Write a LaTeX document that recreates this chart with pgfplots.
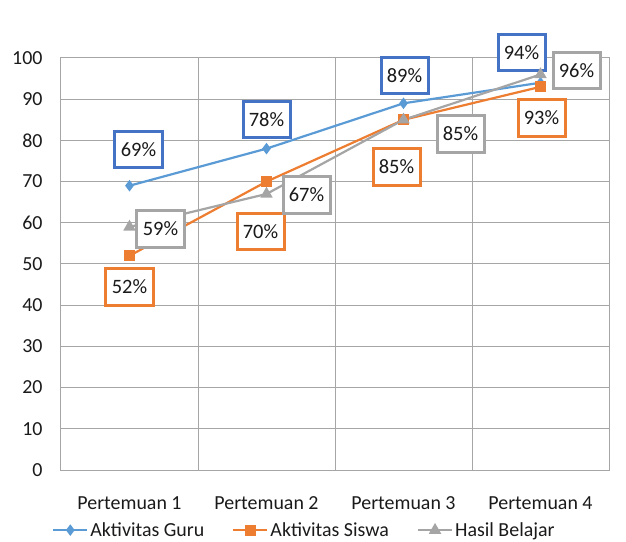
\documentclass[border=0pt]{standalone}
\usepackage{fontspec}
\setmainfont{Carlito}
\usepackage{pgfplots}
\pgfplotsset{compat=1.18}
\usepackage{pgfplotstable}

\definecolor{guruLine}{HTML}{5B9BD5}
\definecolor{guruBox}{HTML}{4472C4}
\definecolor{siswa}{HTML}{ED7D31}
\definecolor{hasil}{HTML}{A5A5A5}
\definecolor{gridc}{HTML}{A6A6A6}
\definecolor{txt}{HTML}{1A1A1A}

% x, value, label offset (dx right, dy up, in bp)
\pgfplotstableread{
x y dx dy
1 69 9 36
2 78 0 29
3 89 1 28
4 94 -19 30
}\guru
\pgfplotstableread{
x y dx dy
1 52 0 -31
2 70 -6 -50
3 85 -7 -47
4 93 1 -31
}\siswa
\pgfplotstableread{
x y dx dy
1 59 31 -2
2 67 40 -1
3 85 57 -14
4 96 36 4
}\hasil

\pgfplotsset{
  valbox/.style={
    nodes near coords={\pgfmathprintnumber{\pgfplotspointmeta}\%},
    point meta=explicit,
    visualization depends on={\thisrow{dx} \as \dx},
    visualization depends on={\thisrow{dy} \as \dy},
    every node near coord/.append style={
      anchor=center, xshift=\dx bp, yshift=\dy bp,
      draw=#1, line width=3bp, fill=white, text=txt,
      minimum width=47bp, minimum height=36.5bp, inner sep=0pt,
      font=\fontsize{20.5}{22}\selectfont},
  },
}

\begin{document}
\begin{tikzpicture}
\useasboundingbox (-61bp,-72bp) rectangle (565bp,470bp);
\begin{axis}[
  at={(0,0)}, anchor=south west,
  scale only axis, width=548bp, height=412bp,
  xmin=0.5, xmax=4.5, ymin=0, ymax=100,
  xtick={1,2,3,4},
  xticklabels={Pertemuan 1,Pertemuan 2,Pertemuan 3,Pertemuan 4},
  minor xtick={1.5,2.5,3.5},
  ytick={0,10,...,100},
  xmajorgrids=false, xminorgrids=true, ymajorgrids=true,
  grid style={gridc, line width=1bp},
  minor grid style={gridc, line width=1bp},
  axis line style={gridc, line width=1bp},
  major tick length=0pt, minor tick length=0pt,
  /pgf/number format/assume math mode=true,
  yticklabel style={font=\fontsize{20}{22}\selectfont, text=txt, xshift=-15bp},
  xticklabel style={font=\fontsize{20}{22}\selectfont, text=txt, yshift=-23bp},
  legend columns=3,
  legend style={at={(axis description cs:-0.0164,-0.146)}, anchor=west,
    draw=none, fill=none, inner sep=0pt,
    font=\fontsize{20}{22}\selectfont, text=txt,
    nodes={inner xsep=2bp},
    /tikz/every even column/.append style={column sep=26bp}},
  legend image code/.code={
    \draw[mark repeat=2,mark phase=2,#1] plot coordinates {(0bp,0bp)(17bp,0bp)(34bp,0bp)};},
  clip=false,
]
\addplot[guruLine, line width=2.2bp, mark=diamond*, mark size=4bp,
  mark options={fill=guruLine, draw=guruLine}, valbox=guruBox]
  table[x=x, y=y, meta=y] {\guru};
\addlegendentry{Aktivitas Guru}
\addplot[siswa, line width=2.2bp, mark=square*, mark size=4.5bp,
  mark options={fill=siswa, draw=siswa}, valbox=siswa]
  table[x=x, y=y, meta=y] {\siswa};
\addlegendentry{Aktivitas Siswa}
\addplot[hasil, line width=2.2bp, mark=triangle*, mark size=5bp,
  mark options={fill=hasil, draw=hasil}, valbox=hasil]
  table[x=x, y=y, meta=y] {\hasil};
\addlegendentry{Hasil Belajar}
\end{axis}
\end{tikzpicture}
\end{document}
